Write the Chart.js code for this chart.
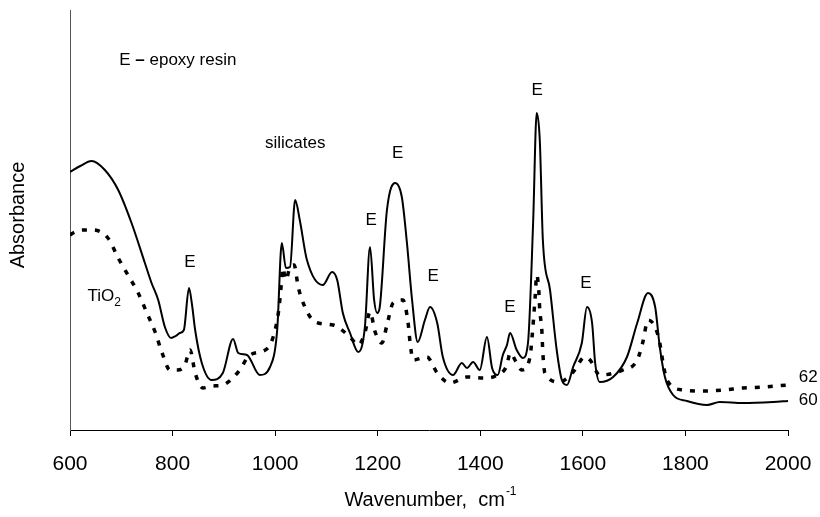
<!DOCTYPE html>
<html><head><meta charset="utf-8">
<script src="https://cdn.jsdelivr.net/npm/chart.js@4/dist/chart.umd.min.js"></script>
<style>html,body{margin:0;padding:0;background:#fff;}#wrap{width:820px;height:517px;}</style>
</head><body><div id="wrap"><canvas id="c" width="820" height="517"></canvas></div>
<script>
// Sample 60 (solid line)
const wavenumber60 = [600,620,642,668,694,720,746,759,772,785,797,806,814,822,832,838,844,857,876,898,918,928,945,970,990,1004,1013,1021,1029,1039,1048,1062,1093,1111,1121,1132,1146,1162,1175,1185,1193,1199,1204,1218,1234,1247,1257,1267,1278,1292,1302,1316,1327,1347,1364,1374,1386,1399,1413,1423,1434,1444,1452,1458,1471,1483,1493,1503,1510,1516,1522,1536,1549,1559,1569,1581,1598,1608,1618,1624,1633,1659,1686,1706,1727,1741,1750,1760,1776,1803,1842,1867,1912,1971,2000];
const absorbance60 = [258,264,269,260,240,207,167,147,130,103,92,94,97,100,142,125,100,67,50,57,91,77,75,55,63,100,187,162,163,230,210,170,145,158,150,117,97,78,103,183,130,117,123,220,247,233,187,130,88,110,123,107,73,55,67,62,68,60,93,62,55,75,85,97,80,72,87,207,317,290,190,140,80,50,45,63,87,123,107,67,48,53,73,107,137,123,83,53,35,29,25,28,27,28,29];
// Sample 62 (dashed line)
const wavenumber62 = [600,606,625,645,674,694,713,733,750,766,779,795,810,824,834,844,859,878,898,928,951,986,1000,1007,1011,1015,1021,1029,1037,1045,1058,1078,1113,1146,1162,1175,1185,1195,1208,1218,1230,1249,1259,1263,1269,1296,1316,1341,1374,1405,1430,1452,1458,1470,1481,1497,1501,1507,1510,1514,1516,1520,1522,1526,1555,1581,1604,1614,1633,1678,1706,1717,1727,1741,1750,1756,1764,1795,1834,1873,1912,1951,2000];
const absorbance62 = [195,197,200,200,192,172,155,137,117,98,78,60,60,65,80,57,42,44,45,58,75,82,100,120,140,162,150,163,165,143,123,108,105,93,85,97,118,98,87,105,127,130,108,88,70,73,57,47,53,52,54,65,77,68,60,73,93,133,155,140,120,100,77,57,48,58,73,70,55,60,70,88,110,103,87,68,50,40,39,40,42,43,45];
const xTicks = [600,800,1000,1200,1400,1600,1800,2000];
// Peak marks "E" (wavenumber, absorbance height)
const peakLabelX = [834,1187,1239,1308,1458,1511,1606];
const peakLabelY = [168,210,277,154,123,340,147];

const FONT = '"Liberation Sans", Arial, sans-serif';
const textPlugin = {
  id: 'texts',
  afterDraw(chart) {
    const ctx = chart.ctx, xs = chart.scales.x, ys = chart.scales.y;
    const px = v => xs.getPixelForValue(v), py = v => ys.getPixelForValue(v);
    ctx.save();
    ctx.fillStyle = '#000';
    ctx.textBaseline = 'middle';
    ctx.font = '17px ' + FONT;
    ctx.textAlign = 'center';
    peakLabelX.forEach((x, i) => ctx.fillText('E', px(x), py(peakLabelY[i])));
    ctx.fillText('silicates', px(1039), py(287));
    // note
    ctx.textAlign = 'left';
    let x0 = px(696), y0 = py(370);
    ctx.fillText('E', x0, y0);
    x0 += ctx.measureText('E ').width;
    ctx.font = 'bold 17px ' + FONT;
    ctx.fillText('\u2013', x0, y0);
    x0 += ctx.measureText('\u2013').width;
    ctx.font = '17px ' + FONT;
    x0 += ctx.measureText(' ').width;
    ctx.fillText('epoxy resin', x0, y0);
    // TiO2
    let tx = px(634), ty = py(134);
    ctx.fillText('TiO', tx, ty);
    tx += ctx.measureText('TiO').width;
    ctx.font = '12px ' + FONT;
    ctx.fillText('2', tx, ty + 7);
    // series labels
    ctx.font = '17px ' + FONT;
    ctx.fillText('62', px(2021), py(53));
    ctx.fillText('60', px(2021), py(30));
    // axis titles
    ctx.font = '20px ' + FONT;
    ctx.textAlign = 'center';
    ctx.save();
    ctx.translate(18, 215);
    ctx.rotate(-Math.PI / 2);
    ctx.fillText('Absorbance', 0, 0);
    ctx.restore();
    const main = 'Wavenumber,  cm';
    ctx.font = '20px ' + FONT;
    const w1 = ctx.measureText(main).width;
    ctx.font = '12px ' + FONT;
    const w2 = ctx.measureText('-1').width;
    const start = 430 - (w1 + w2) / 2;
    ctx.textAlign = 'left';
    ctx.font = '20px ' + FONT;
    ctx.fillText(main, start, 500);
    ctx.font = '12px ' + FONT;
    ctx.fillText('-1', start + w1 + 1, 492);
    ctx.restore();
  }
};

new Chart(document.getElementById('c'), {
  type: 'line',
  data: {
    datasets: [
      { label: '60', data: wavenumber60.map((x, i) => ({x, y: absorbance60[i]})),
        borderColor: '#000', borderWidth: 2, pointRadius: 0, cubicInterpolationMode: 'monotone', fill: false },
      { label: '62', data: wavenumber62.map((x, i) => ({x, y: absorbance62[i]})),
        borderColor: '#000', borderWidth: 3.5, borderDash: [5, 8], pointRadius: 0, cubicInterpolationMode: 'monotone', fill: false }
    ]
  },
  options: {
    responsive: false, animation: false, devicePixelRatio: 1,
    layout: { padding: { top: 10, right: 32, left: 0, bottom: 0 } },
    plugins: { legend: { display: false }, tooltip: { enabled: false } },
    scales: {
      x: {
        type: 'linear', min: 600, max: 2000,
        afterBuildTicks: s => { s.ticks = xTicks.map(v => ({ value: v })); },
        afterFit: s => { s.height = 87; s.paddingLeft = 0; s.paddingRight = 0; },
        ticks: { color: '#000', font: { size: 21, family: FONT }, padding: 16, maxRotation: 0,
                 callback: v => String(v) },
        grid: { drawOnChartArea: false, drawTicks: true, tickLength: 6, color: '#000' },
        border: { color: '#000', width: 1 }
      },
      y: {
        min: 0, max: 420,
        afterFit: s => { s.width = 70; },
        ticks: { display: false },
        grid: { display: false },
        border: { color: '#555', width: 1 }
      }
    }
  },
  plugins: [textPlugin]
});
</script>
</body></html>
